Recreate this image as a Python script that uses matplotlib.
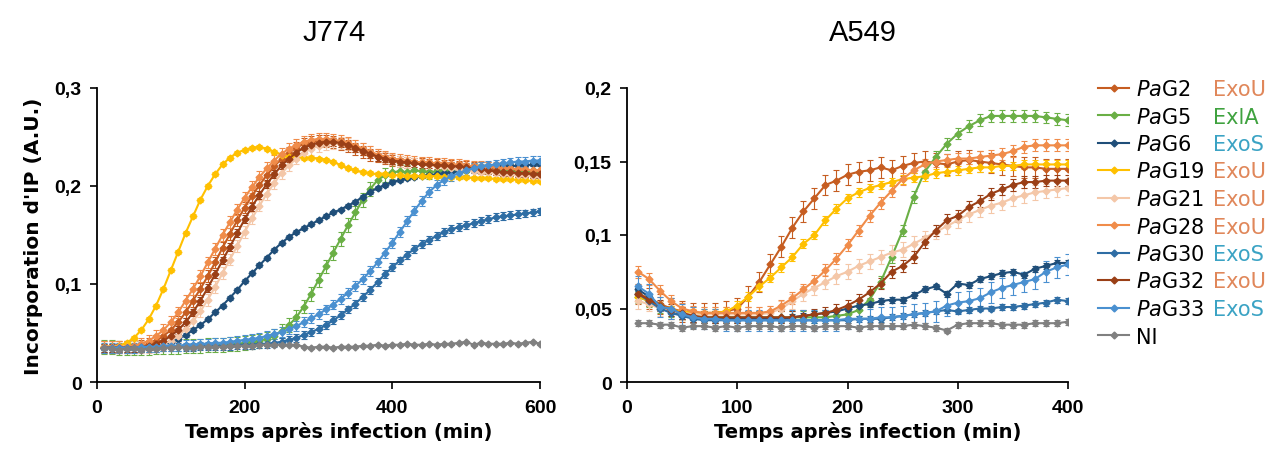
import matplotlib
matplotlib.use('Agg')
import matplotlib.pyplot as plt
from matplotlib.lines import Line2D
import numpy as np

plt.rcParams['font.family'] = 'DejaVu Sans'
plt.rcParams['mathtext.fontset'] = 'dejavusans'

## data
strains = ['PaG2', 'PaG5', 'PaG6', 'PaG19', 'PaG21', 'PaG28', 'PaG30', 'PaG32', 'PaG33', 'NI']
toxins = ['ExoU', 'ExlA', 'ExoS', 'ExoU', 'ExoU', 'ExoU', 'ExoS', 'ExoU', 'ExoS', '']
colors = ['#C65D21', '#6AAF45', '#1F4E79', '#FFC000', '#F4C7A8', '#F08C4A',
          '#2E6DA4', '#9A3F16', '#4A90D0', '#808080']
toxin_colors = {'ExoU': '#E0875A', 'ExlA': '#3FA23F', 'ExoS': '#3BA3C4', '': 'k'}

t_j774 = np.arange(10, 601, 10)
t_a549 = np.arange(10, 401, 10)

j774_pag2 = [0.036,0.036,0.036,0.036,0.036,0.037,0.039,0.042,0.047,0.053,
             0.061,0.071,0.083,0.095,0.108,0.122,0.137,0.151,0.165,0.178,
             0.190,0.201,0.211,0.220,0.228,0.234,0.239,0.243,0.245,0.246,
             0.246,0.245,0.243,0.241,0.238,0.235,0.232,0.230,0.228,0.226,
             0.225,0.224,0.223,0.223,0.222,0.222,0.221,0.221,0.220,0.220,
             0.219,0.218,0.218,0.217,0.216,0.216,0.215,0.215,0.214,0.214]
j774_pag5 = [0.036,0.036,0.035,0.035,0.035,0.035,0.035,0.036,0.036,0.036,
             0.036,0.037,0.037,0.037,0.038,0.038,0.038,0.039,0.039,0.040,
             0.041,0.042,0.044,0.047,0.052,0.058,0.066,0.077,0.090,0.104,
             0.118,0.132,0.146,0.160,0.173,0.186,0.197,0.206,0.211,0.214,
             0.215,0.214,0.216,0.215,0.214,0.215,0.216,0.215,0.214,0.215,
             0.216,0.215,0.214,0.215,0.216,0.215,0.214,0.215,0.216,0.215]
j774_pag6 = [0.035,0.035,0.035,0.035,0.035,0.035,0.036,0.037,0.039,0.041,
             0.044,0.048,0.053,0.058,0.064,0.071,0.078,0.086,0.094,0.103,
             0.111,0.119,0.127,0.135,0.142,0.148,0.153,0.157,0.161,0.165,
             0.169,0.173,0.176,0.180,0.184,0.189,0.194,0.198,0.201,0.204,
             0.206,0.208,0.209,0.210,0.211,0.212,0.213,0.214,0.215,0.216,
             0.217,0.218,0.219,0.219,0.220,0.220,0.221,0.221,0.222,0.222]
j774_pag19 = [0.036,0.036,0.037,0.040,0.045,0.053,0.064,0.078,0.095,0.114,
              0.133,0.152,0.169,0.186,0.200,0.212,0.222,0.229,0.234,0.237,
              0.239,0.240,0.238,0.235,0.232,0.230,0.229,0.229,0.229,0.228,
              0.227,0.225,0.221,0.218,0.216,0.214,0.213,0.212,0.212,0.211,
              0.211,0.210,0.210,0.210,0.210,0.210,0.209,0.209,0.209,0.209,
              0.208,0.208,0.208,0.207,0.207,0.207,0.206,0.206,0.205,0.205]
j774_pag21 = [0.036,0.036,0.036,0.036,0.036,0.036,0.036,0.037,0.039,0.042,
              0.047,0.054,0.062,0.072,0.084,0.097,0.111,0.125,0.139,0.153,
              0.167,0.180,0.192,0.203,0.213,0.221,0.228,0.234,0.238,0.241,
              0.243,0.244,0.244,0.243,0.241,0.238,0.235,0.232,0.229,0.227,
              0.225,0.224,0.223,0.222,0.221,0.220,0.219,0.218,0.217,0.216,
              0.215,0.214,0.214,0.213,0.212,0.212,0.211,0.211,0.210,0.210]
j774_pag28 = [0.036,0.036,0.036,0.036,0.037,0.039,0.042,0.047,0.053,0.061,
              0.071,0.083,0.095,0.108,0.122,0.136,0.150,0.163,0.176,0.188,
              0.199,0.209,0.218,0.226,0.233,0.238,0.242,0.245,0.247,0.248,
              0.248,0.247,0.246,0.244,0.241,0.238,0.235,0.232,0.230,0.228,
              0.227,0.226,0.225,0.224,0.224,0.223,0.223,0.222,0.222,0.221,
              0.220,0.220,0.219,0.219,0.218,0.218,0.217,0.217,0.216,0.216]
j774_pag30 = [0.035,0.035,0.035,0.035,0.035,0.035,0.035,0.035,0.036,0.036,
              0.036,0.036,0.036,0.037,0.037,0.037,0.037,0.037,0.038,0.038,
              0.038,0.039,0.039,0.040,0.041,0.043,0.045,0.048,0.051,0.054,
              0.058,0.063,0.068,0.074,0.080,0.087,0.094,0.102,0.110,0.117,
              0.124,0.130,0.136,0.141,0.145,0.149,0.153,0.156,0.158,0.160,
              0.162,0.164,0.166,0.168,0.169,0.170,0.171,0.172,0.173,0.174]
j774_pag32 = [0.035,0.035,0.035,0.035,0.035,0.036,0.037,0.039,0.042,0.047,
              0.053,0.061,0.071,0.083,0.096,0.110,0.124,0.138,0.152,0.166,
              0.179,0.191,0.202,0.212,0.221,0.228,0.234,0.239,0.242,0.244,
              0.245,0.245,0.244,0.242,0.239,0.236,0.233,0.230,0.228,0.226,
              0.225,0.224,0.223,0.222,0.222,0.221,0.221,0.220,0.220,0.219,
              0.218,0.217,0.216,0.215,0.214,0.214,0.213,0.213,0.212,0.212]
j774_pag33 = [0.035,0.035,0.035,0.035,0.035,0.036,0.036,0.036,0.037,0.037,
              0.037,0.038,0.038,0.039,0.039,0.040,0.040,0.041,0.042,0.043,
              0.044,0.045,0.047,0.049,0.051,0.054,0.057,0.061,0.065,0.069,
              0.074,0.079,0.085,0.091,0.098,0.105,0.113,0.122,0.132,0.142,
              0.153,0.164,0.175,0.185,0.194,0.201,0.206,0.210,0.213,0.216,
              0.218,0.220,0.221,0.222,0.223,0.224,0.225,0.225,0.226,0.226]
j774_ni = [0.035,0.034,0.033,0.034,0.035,0.033,0.034,0.034,0.035,0.035,
           0.036,0.035,0.035,0.036,0.036,0.036,0.036,0.037,0.037,0.037,
           0.037,0.038,0.038,0.038,0.038,0.038,0.038,0.036,0.035,0.036,
           0.036,0.035,0.036,0.036,0.036,0.037,0.037,0.038,0.037,0.038,
           0.038,0.039,0.038,0.038,0.039,0.038,0.039,0.039,0.040,0.041,
           0.038,0.040,0.039,0.039,0.039,0.040,0.039,0.040,0.041,0.039]

a549_pag2 = [0.060,0.057,0.053,0.050,0.048,0.047,0.047,0.047,0.048,0.050,
             0.058,0.068,0.080,0.092,0.105,0.116,0.125,0.134,0.137,0.141,
             0.143,0.144,0.146,0.144,0.147,0.149,0.150,0.149,0.148,0.150,
             0.151,0.150,0.149,0.148,0.147,0.146,0.146,0.145,0.145,0.145]
a549_pag5 = [0.058,0.055,0.051,0.048,0.046,0.045,0.044,0.044,0.044,0.044,
             0.044,0.044,0.044,0.044,0.044,0.044,0.044,0.044,0.045,0.046,
             0.049,0.056,0.068,0.085,0.103,0.126,0.143,0.153,0.162,0.169,
             0.174,0.178,0.181,0.181,0.181,0.181,0.181,0.180,0.179,0.178]
a549_pag6 = [0.063,0.058,0.052,0.048,0.045,0.044,0.043,0.043,0.043,0.043,
             0.043,0.043,0.043,0.043,0.044,0.045,0.046,0.047,0.048,0.050,
             0.052,0.053,0.055,0.056,0.056,0.059,0.063,0.065,0.060,0.067,
             0.066,0.070,0.072,0.074,0.075,0.073,0.077,0.079,0.081,0.081]
a549_pag19 = [0.058,0.055,0.052,0.049,0.048,0.047,0.047,0.047,0.048,0.052,
              0.058,0.065,0.071,0.078,0.085,0.094,0.100,0.110,0.118,0.125,
              0.129,0.132,0.134,0.136,0.138,0.139,0.140,0.142,0.143,0.144,
              0.145,0.146,0.146,0.147,0.147,0.148,0.148,0.148,0.148,0.148]
a549_pag21 = [0.055,0.053,0.050,0.048,0.047,0.046,0.046,0.046,0.046,0.046,
              0.046,0.046,0.047,0.050,0.055,0.060,0.064,0.068,0.072,0.075,
              0.079,0.082,0.085,0.088,0.090,0.094,0.098,0.102,0.106,0.110,
              0.114,0.117,0.120,0.122,0.125,0.127,0.129,0.130,0.131,0.132]
a549_pag28 = [0.075,0.070,0.062,0.055,0.050,0.048,0.047,0.047,0.047,0.047,
              0.047,0.047,0.048,0.052,0.057,0.063,0.069,0.076,0.084,0.093,
              0.103,0.113,0.122,0.130,0.138,0.144,0.148,0.150,0.151,0.152,
              0.152,0.153,0.154,0.155,0.157,0.160,0.161,0.161,0.161,0.161]
a549_pag30 = [0.060,0.055,0.050,0.047,0.045,0.043,0.042,0.042,0.042,0.042,
              0.042,0.042,0.042,0.042,0.042,0.042,0.042,0.042,0.042,0.042,
              0.043,0.043,0.043,0.044,0.045,0.046,0.047,0.048,0.049,0.048,
              0.049,0.050,0.050,0.051,0.051,0.052,0.053,0.054,0.056,0.055]
a549_pag32 = [0.060,0.056,0.052,0.049,0.047,0.045,0.044,0.044,0.044,0.044,
              0.044,0.044,0.044,0.044,0.044,0.045,0.046,0.047,0.049,0.052,
              0.056,0.061,0.067,0.075,0.079,0.085,0.095,0.103,0.110,0.113,
              0.119,0.123,0.128,0.131,0.134,0.136,0.136,0.137,0.137,0.137]
a549_pag33 = [0.065,0.060,0.051,0.050,0.046,0.044,0.043,0.043,0.042,0.042,
              0.042,0.042,0.042,0.042,0.042,0.042,0.042,0.042,0.042,0.043,
              0.043,0.043,0.044,0.044,0.045,0.046,0.047,0.048,0.052,0.054,
              0.055,0.057,0.061,0.064,0.066,0.068,0.070,0.075,0.078,0.080]
a549_ni = [0.040,0.040,0.039,0.039,0.037,0.038,0.038,0.037,0.038,0.037,
           0.038,0.038,0.038,0.037,0.038,0.038,0.037,0.038,0.038,0.038,
           0.037,0.038,0.038,0.038,0.038,0.039,0.038,0.037,0.035,0.039,
           0.040,0.040,0.040,0.039,0.039,0.039,0.040,0.040,0.040,0.041]

# typical error bar (SEM) per strain
err_j774 = [0.006, 0.007, 0.002, 0.002, 0.006, 0.006, 0.004, 0.004, 0.005, 0.001]
err_a549 = [0.007, 0.004, 0.002, 0.003, 0.005, 0.004, 0.002, 0.004, 0.007, 0.002]

j774_series = [j774_pag2, j774_pag5, j774_pag6, j774_pag19, j774_pag21,
               j774_pag28, j774_pag30, j774_pag32, j774_pag33, j774_ni]
a549_series = [a549_pag2, a549_pag5, a549_pag6, a549_pag19, a549_pag21,
               a549_pag28, a549_pag30, a549_pag32, a549_pag33, a549_ni]

fig = plt.figure(figsize=(12.73, 4.52), dpi=100)
ax1 = fig.add_axes([97/1273, 1-383/452, 443/1273, 294/452])
ax2 = fig.add_axes([627/1273, 1-383/452, 441/1273, 294/452])

def draw_panel(ax, t, series, errs):
    for i in range(len(series)):
        ax.errorbar(t, series[i], yerr=errs[i], color=colors[i], lw=1.5,
                    marker='D', ms=3.5, elinewidth=0.8, capsize=2.5,
                    capthick=0.8, ecolor=colors[i])
    for s in ['top', 'right']:
        ax.spines[s].set_visible(False)
    for s in ['left', 'bottom']:
        ax.spines[s].set_linewidth(1.3)
    ax.tick_params(direction='out', length=5, width=1.2)
    ax.tick_params(axis='x', pad=7)
    ax.tick_params(axis='y', pad=6)
    ax.set_xlabel('Temps après infection (min)', fontsize=14, fontweight='bold', labelpad=4)
    ax.xaxis.label.set_x(0.545)

draw_panel(ax1, t_j774, j774_series, err_j774)
draw_panel(ax2, t_a549, a549_series, err_a549)

# tick labels look like Arial bold in the original
tick_font = dict(fontsize=14, fontweight='bold', fontfamily='Liberation Sans')

ax1.set_xlim(0, 600)
ax1.set_ylim(0, 0.3)
ax1.set_xticks([0, 200, 400, 600])
ax1.set_yticks([0, 0.1, 0.2, 0.3])
ax1.set_yticklabels(['0', '0,1', '0,2', '0,3'], **tick_font)
ax1.set_xticklabels(['0', '200', '400', '600'], **tick_font)
ax1.set_ylabel("Incorporation d'IP (A.U.)", fontsize=14.5, fontweight='bold', labelpad=8)
ax1.set_title('J774', fontsize=21, x=0.535, y=1.135, fontfamily='Liberation Sans')

ax2.set_xlim(0, 400)
ax2.set_ylim(0, 0.2)
ax2.set_xticks([0, 100, 200, 300, 400])
ax2.set_yticks([0, 0.05, 0.1, 0.15, 0.2])
ax2.set_yticklabels(['0', '0,05', '0,1', '0,15', '0,2'], **tick_font)
ax2.set_xticklabels(['0', '100', '200', '300', '400'], **tick_font)
ax2.set_title('A549', fontsize=21, x=0.535, y=1.135, fontfamily='Liberation Sans')

# legend: plain line + marker handles
handles = [Line2D([], [], color=c, lw=1.5, marker='D', ms=3.5) for c in colors]
labels = []
for s in strains:
    if s.startswith('Pa'):
        labels.append(r'$\mathit{Pa}$' + s[2:])
    else:
        labels.append(s)
leg = ax2.legend(handles, labels, loc='upper left', bbox_to_anchor=(1098/1273, 1-80/452),
                 bbox_transform=fig.transFigure, frameon=False, fontsize=15,
                 handlelength=1.5, handletextpad=0.3, labelspacing=0.36, borderpad=0,
                 borderaxespad=0)

# second legend column: toxin type
fig.canvas.draw()
inv = fig.transFigure.inverted()
for txt, tox in zip(leg.get_texts(), toxins):
    if tox == '':
        continue
    bb = txt.get_window_extent()
    x0, y0 = inv.transform((1213, (bb.y0 + bb.y1) / 2))
    fig.text(x0, y0, tox, color=toxin_colors[tox], fontsize=15, va='center', ha='left')

plt.savefig('out.png', dpi=100)
